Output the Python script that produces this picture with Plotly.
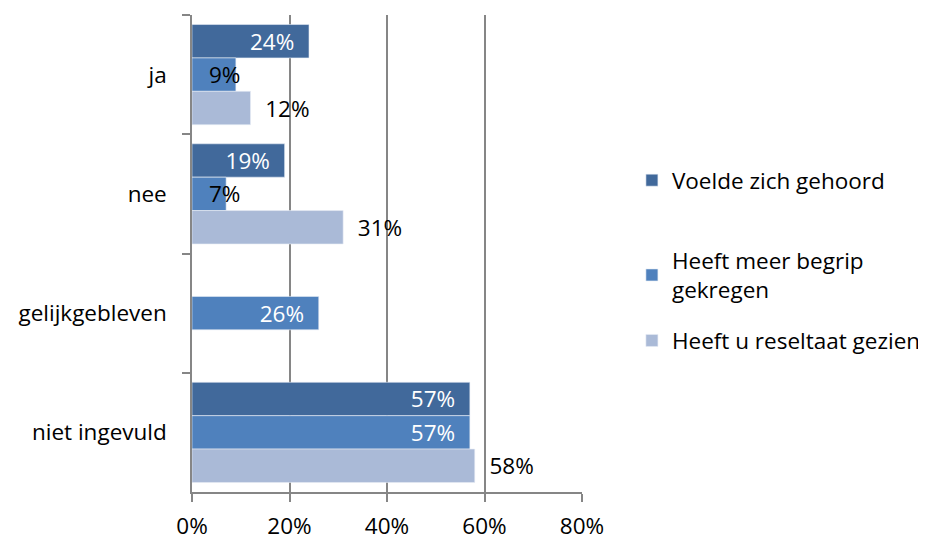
import plotly.graph_objects as go

categories = ["ja", "nee", "gelijkgebleven", "niet ingevuld"]
series_names = ["Voelde zich gehoord", "Heeft meer begrip<br>gekregen", "Heeft u reseltaat gezien"]
voelde = [0.24, 0.19, None, 0.57]
begrip = [0.09, 0.07, 0.26, 0.57]
resultaat = [0.12, 0.31, None, 0.58]
x_ticks = [0, 0.2, 0.4, 0.6, 0.8]
x_ticklabels = ["0%", "20%", "40%", "60%", "80%"]

colors = ["#41699B", "#4F81BD", "#AABAD7"]
FONT = "Open Sans"
FS = 22.5
NB = "\u00a0"
SMALL = 0.15  # below this the middle-series label is drawn in black from the base


def pct(v):
    return "" if v is None else f"{round(v*100)}%"


fig = go.Figure()

# Series 1: inside end, white
fig.add_trace(go.Bar(
    y=categories, x=voelde, orientation="h", name=series_names[0],
    marker=dict(color=colors[0], line=dict(color="#E8EDF5", width=0.6)),
    text=[pct(v) + NB * 2 if v is not None else "" for v in voelde],
    textposition="inside", insidetextanchor="end",
    textfont=dict(color="white", size=FS, family=FONT), constraintext="none",
    legend="legend", hoverinfo="skip",
))

# Series 2: inside end white; small bars labelled separately in black
fig.add_trace(go.Bar(
    y=categories, x=begrip, orientation="h", name=series_names[1],
    marker=dict(color=colors[1], line=dict(color="#E8EDF5", width=0.6)),
    text=[pct(v) + NB * 2 if (v is not None and v >= SMALL) else "" for v in begrip],
    textposition="inside", insidetextanchor="end",
    textfont=dict(color="white", size=FS, family=FONT), constraintext="none",
    legend="legend2", hoverinfo="skip",
))

# Series 3: outside end, black
fig.add_trace(go.Bar(
    y=categories, x=resultaat, orientation="h", name=series_names[2],
    marker=dict(color=colors[2], line=dict(color="#E8EDF5", width=0.6)),
    text=[NB * 2 + pct(v) if v is not None else "" for v in resultaat],
    textposition="outside",
    textfont=dict(color="black", size=FS, family=FONT), constraintext="none",
    cliponaxis=False, legend="legend3", hoverinfo="skip",
))

# black labels for the short middle-series bars (middle bar sits on the category centre)
for cat, v in zip(categories, begrip):
    if v is not None and v < SMALL:
        fig.add_annotation(
            x=0, y=cat, xref="x", yref="y", text=pct(v), showarrow=False,
            xanchor="left", yanchor="middle", xshift=15,
            font=dict(color="black", size=FS, family=FONT),
        )

leg_common = dict(
    x=1.128, xanchor="left", yanchor="top",
    font=dict(size=FS, family=FONT, color="black"),
    itemwidth=30, bgcolor="rgba(0,0,0,0)",
)

fig.update_layout(
    width=926, height=539,
    margin=dict(l=184, r=352, t=7, b=55, autoexpand=False),
    paper_bgcolor="white", plot_bgcolor="white",
    barmode="group", bargap=0.16, bargroupgap=0,
    font=dict(family=FONT, size=FS, color="black"),
    showlegend=True,
    legend=dict(y=0.698, **leg_common),
    legend2=dict(y=0.530, **leg_common),
    legend3=dict(y=0.362, **leg_common),
    xaxis=dict(
        range=[0, 0.8], tickvals=x_ticks, ticktext=x_ticklabels,
        showgrid=True, gridcolor="#868686", gridwidth=1.5,
        showline=True, linecolor="#868686", linewidth=1.5,
        ticks="outside", ticklen=8, tickcolor="#868686", tickwidth=1.5,
        ticklabelstandoff=5, zeroline=False, fixedrange=True,
        automargin=False,
    ),
    yaxis=dict(
        categoryorder="array", categoryarray=categories, autorange="reversed",
        showline=True, linecolor="#868686", linewidth=1.5,
        ticks="outside", ticklen=8, tickcolor="#868686", tickwidth=1.5,
        tickson="boundaries", ticklabelstandoff=19, showgrid=False,
        fixedrange=True, automargin=False,
    ),
)

fig.write_html("out.html")
